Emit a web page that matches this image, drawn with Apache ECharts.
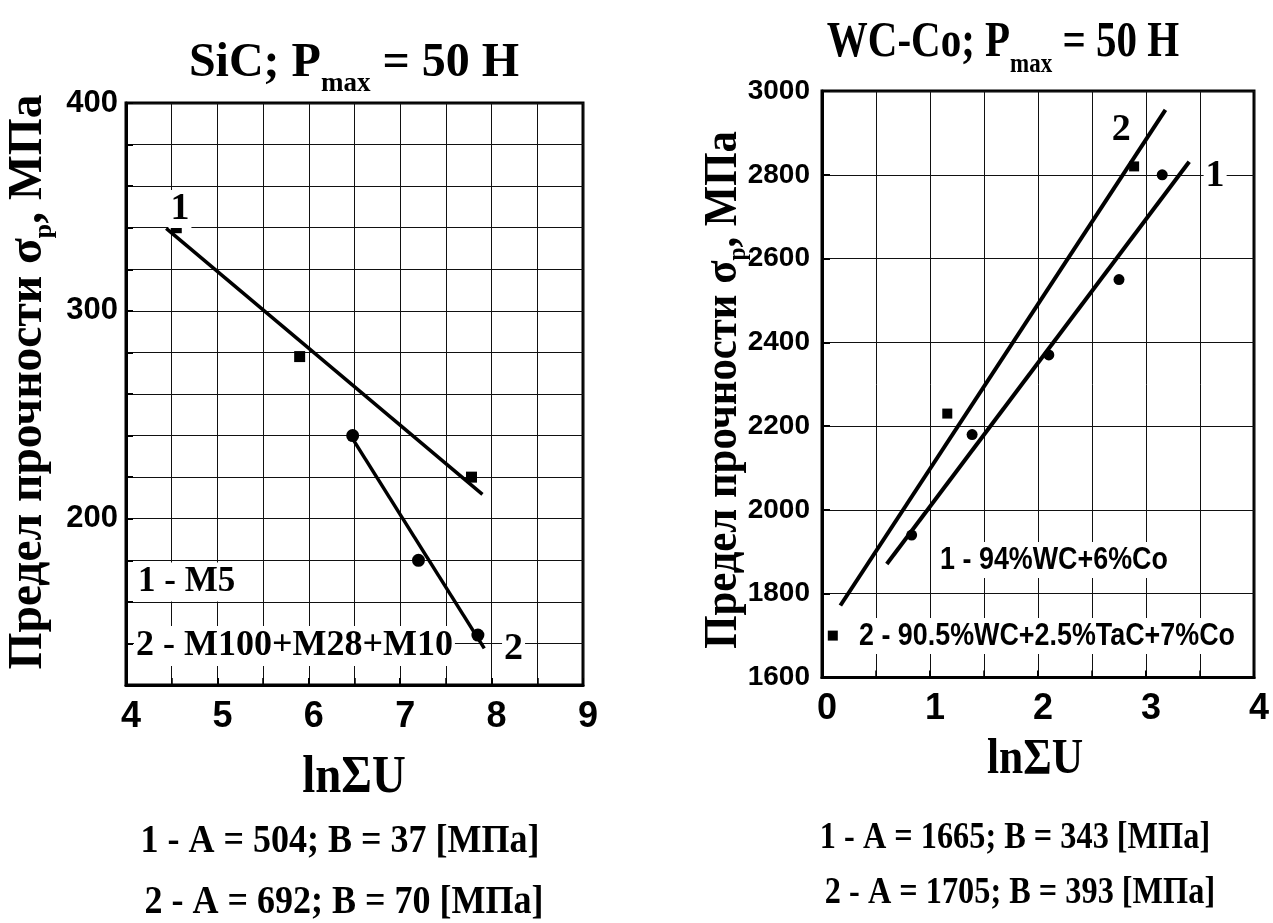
<!DOCTYPE html>
<html>
<head>
<meta charset="utf-8">
<script src="https://cdn.jsdelivr.net/npm/echarts@6/dist/echarts.min.js"></script>
<style>
  html, body { margin: 0; padding: 0; background: #fff; }
  #chart { width: 1273px; height: 923px; }
</style>
</head>
<body>
<div id="chart"></div>
<script>
// ---- SiC panel: strength vs lnΣU ----
const sicSquares = [[4.55, 340], [5.9, 278], [7.78, 220]];          // 1 - M5
const sicCircles = [[6.48, 240], [7.2, 180], [7.85, 144]];          // 2 - M100+M28+M10
const sicA = [504, 692];                                            // σ = A − B·lnΣU
const sicB = [37, 70];
const sicSpan = [[4.44, 7.9], [6.48, 7.92]];                        // lnΣU extent of each fit line
const sicCurveTags = [[4.59, 349, '1'], [8.24, 137, '2']];

// ---- WC-Co panel ----
const wcCircles = [[0.83, 1940], [1.39, 2180], [2.1, 2370], [2.75, 2550], [3.15, 2800]]; // 1 - 94%WC+6%Co
const wcSquares = [[0.1, 1700], [1.16, 2230], [2.89, 2820]];                             // 2 - 90.5%WC+2.5%TaC+7%Co
const wcA = [1665, 1705];                                           // σ = A + B·lnΣU
const wcB = [343, 393];
const wcSpan = [[0.6, 3.4], [0.17, 3.18]];
const wcCurveTags = [[3.64, 2796, '1'], [2.77, 2907, '2']];

const SERIF = "'Liberation Serif', 'Times New Roman', serif";
const SANS = "'Liberation Sans', Arial, sans-serif";

function fitLine(A, B, span, sign) {
  return span.map(x => [x, A + sign * B * x]);
}

function axisX(gridIndex, min, max, size, margin) {
  return {
    type: 'value', gridIndex, min, max, interval: 1,
    axisLine: { show: true, onZero: false, lineStyle: { color: '#000', width: 3 } },
    axisTick: { show: true, inside: true, length: 7, lineStyle: { color: '#000', width: 2 } },
    minorTick: { show: true, splitNumber: 2, length: 7, lineStyle: { color: '#000', width: 1.5 } },
    splitLine: { show: true, lineStyle: { color: '#111', width: 1 } },
    minorSplitLine: { show: true, lineStyle: { color: '#111', width: 1 } },
    axisLabel: { fontFamily: SANS, fontWeight: 'bold', fontSize: size, color: '#000', margin, padding: [0, 0, 0, 10] }
  };
}

const tagLabel = (size) => ({
  show: true, position: 'inside', formatter: p => p.data[2],
  fontFamily: SERIF, fontWeight: 'bold', fontSize: size, color: '#000', opacity: 1,
  backgroundColor: '#fff', padding: [0, 2]
});

const yName = (x, y, size, sx) => ({
  type: 'text', x, y, rotation: Math.PI / 2, scaleX: sx, z: 10,
  style: {
    text: '{t|Предел прочности σ}{s|p}{t|, МПа}', align: 'center', verticalAlign: 'middle',
    rich: {
      t: { fontFamily: SERIF, fontWeight: 'bold', fontSize: size, verticalAlign: 'top', fill: '#000' },
      s: { fontFamily: SERIF, fontWeight: 'bold', fontSize: Math.round(size * 0.55), verticalAlign: 'top',
           padding: [Math.round(size * 0.55), 0, 0, 0], fill: '#000' }
    }
  }
});

const title = (x, y, lead, size, sx) => ({
  type: 'text', x, y, scaleX: sx, z: 10,
  style: {
    text: '{t|' + lead + '; P}{s|max}{t| = 50 H}', align: 'center',
    rich: {
      t: { fontFamily: SERIF, fontWeight: 'bold', fontSize: size, verticalAlign: 'top', fill: '#000' },
      s: { fontFamily: SERIF, fontWeight: 'bold', fontSize: Math.round(size * 0.56), verticalAlign: 'top',
           padding: [Math.round(size * 0.65), 0, 0, 0], fill: '#000' }
    }
  }
});

const plain = (text, x, y, font, size, sx, extra) => ({
  type: 'text', x, y, scaleX: sx, z: 10,
  style: Object.assign({ text, fontFamily: font, fontWeight: 'bold', fontSize: size,
    align: 'center', verticalAlign: 'middle', fill: '#000' }, extra || {})
});

const option = {
  backgroundColor: '#fff',
  animation: false,
  grid: [
    { left: 126, top: 103, width: 457, height: 582, show: true, borderColor: '#000', borderWidth: 3 },
    { left: 822, top: 91, width: 432, height: 586.5, show: true, borderColor: '#000', borderWidth: 3 }
  ],
  xAxis: [
    axisX(0, 4, 9, 36, 14),
    axisX(1, 0, 4, 36, 14)
  ],
  yAxis: [
    {
      type: 'value', gridIndex: 0, min: 120, max: 400, interval: 20,
      axisLine: { show: true, onZero: false, lineStyle: { color: '#000', width: 3 } },
      axisTick: { show: true, inside: true, length: 7, lineStyle: { color: '#000', width: 2 } },
      splitLine: { show: true, lineStyle: { color: '#111', width: 1 } },
      axisLabel: {
        fontFamily: SANS, fontWeight: 'bold', fontSize: 31, color: '#000', margin: 8,
        formatter: v => (v % 100 === 0 ? String(v) : '')
      }
    },
    {
      type: 'value', gridIndex: 1, min: 1600, max: 3000, interval: 200,
      axisLine: { show: true, onZero: false, lineStyle: { color: '#000', width: 3 } },
      axisTick: { show: true, inside: true, length: 8, lineStyle: { color: '#000', width: 2 } },
      splitLine: { show: true, lineStyle: { color: '#111', width: 1 } },
      axisLabel: { fontFamily: SANS, fontWeight: 'bold', fontSize: 28, color: '#000', margin: 12,
        formatter: v => String(v) }
    }
  ],
  series: [
    // SiC fit lines
    { type: 'line', xAxisIndex: 0, yAxisIndex: 0, data: fitLine(sicA[0], sicB[0], sicSpan[0], -1),
      symbol: 'none', lineStyle: { color: '#000', width: 3.5 }, z: 3 },
    { type: 'line', xAxisIndex: 0, yAxisIndex: 0, data: fitLine(sicA[1], sicB[1], sicSpan[1], -1),
      symbol: 'none', lineStyle: { color: '#000', width: 3.5 }, z: 3 },
    { type: 'scatter', xAxisIndex: 0, yAxisIndex: 0, data: sicSquares, symbol: 'rect', symbolSize: 11,
      itemStyle: { color: '#000', opacity: 1 }, z: 4 },
    { type: 'scatter', xAxisIndex: 0, yAxisIndex: 0, data: sicCircles, symbol: 'circle', symbolSize: 13,
      itemStyle: { color: '#000', opacity: 1 }, z: 4 },
    { type: 'scatter', xAxisIndex: 0, yAxisIndex: 0, data: sicCurveTags, symbolSize: 0,
      itemStyle: { opacity: 1 }, label: tagLabel(38), z: 6 },
    // WC-Co fit lines
    { type: 'line', xAxisIndex: 1, yAxisIndex: 1, data: fitLine(wcA[0], wcB[0], wcSpan[0], 1),
      symbol: 'none', lineStyle: { color: '#000', width: 4 }, z: 3 },
    { type: 'line', xAxisIndex: 1, yAxisIndex: 1, data: fitLine(wcA[1], wcB[1], wcSpan[1], 1),
      symbol: 'none', lineStyle: { color: '#000', width: 4 }, z: 3 },
    { type: 'scatter', xAxisIndex: 1, yAxisIndex: 1, data: wcCircles, symbol: 'circle', symbolSize: 11,
      itemStyle: { color: '#000', opacity: 1 }, z: 4 },
    { type: 'scatter', xAxisIndex: 1, yAxisIndex: 1, data: wcSquares, symbol: 'rect', symbolSize: 10,
      itemStyle: { color: '#000', opacity: 1 }, z: 4 },
    { type: 'scatter', xAxisIndex: 1, yAxisIndex: 1, data: wcCurveTags, symbolSize: 0,
      itemStyle: { opacity: 1 }, label: tagLabel(38), z: 6 }
  ],
  graphic: [
    title(354, 40, 'SiC', 48, 1),
    title(1003, 18, 'WC-Co', 50, 0.82),
    yName(31, 382, 48, 0.99),
    yName(726, 390, 46, 0.93),
    plain('lnΣU', 354, 779, SERIF, 52, 0.9),
    plain('lnΣU', 1035, 760, SERIF, 50, 0.87),
    plain('1 - M5', 136, 582, SERIF, 35, 1,
      { align: 'left', backgroundColor: '#fff', padding: [2, 2] }),
    plain('2 - M100+M28+M10', 134, 646, SERIF, 36, 1,
      { align: 'left', backgroundColor: '#fff', padding: [2, 2] }),
    plain('1 - 94%WC+6%Co', 1054, 560, SANS, 32, 0.84, { backgroundColor: '#fff', padding: [2, 4] }),
    plain('2 - 90.5%WC+2.5%TaC+7%Co', 1047, 636, SANS, 32, 0.84, { backgroundColor: '#fff', padding: [2, 4] }),
    plain('1 - A = 504; B = 37 [МПа]', 340, 842, SERIF, 40, 0.9),
    plain('2 - A = 692; B = 70 [МПа]', 344, 903, SERIF, 40, 0.9),
    plain('1 - A = 1665; B = 343 [МПа]', 1015, 838, SERIF, 38, 0.85),
    plain('2 - A = 1705; B = 393 [МПа]', 1020, 893, SERIF, 38, 0.85)
  ]
};

const chart = echarts.init(document.getElementById('chart'), null, { renderer: 'canvas' });
chart.setOption(option);
</script>
</body>
</html>
